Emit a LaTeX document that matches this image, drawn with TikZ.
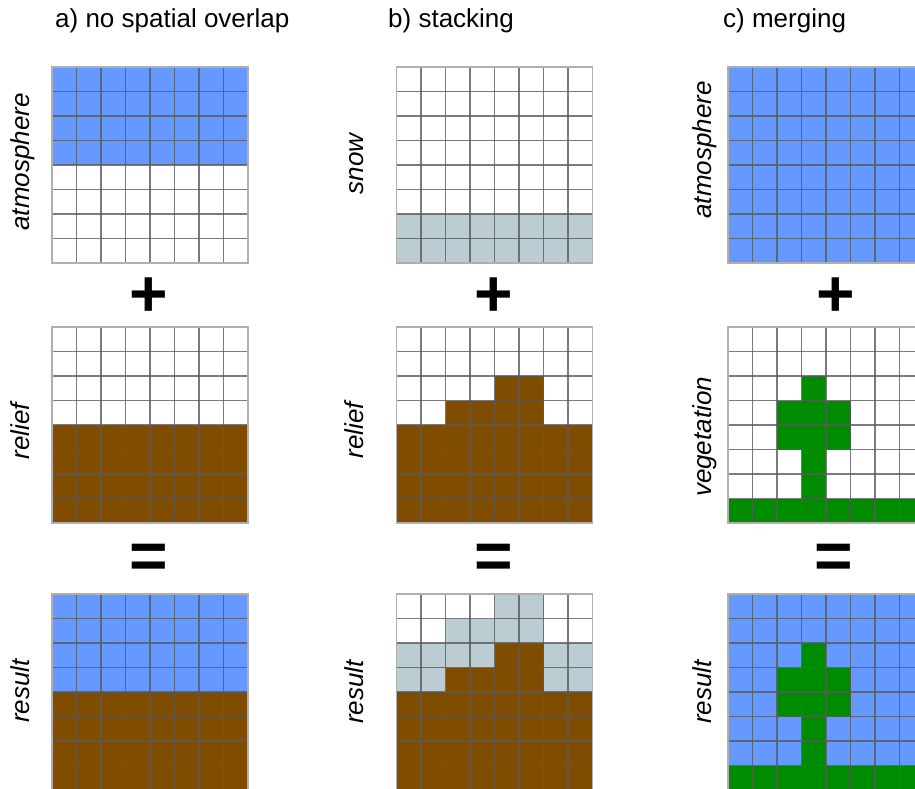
\documentclass[tikz,border=0pt]{standalone}
\usepackage{fontspec}
\setmainfont{Liberation Sans}
\definecolor{atm}{RGB}{102,153,255}
\definecolor{soil}{RGB}{127,76,0}
\definecolor{veg}{RGB}{0,140,0}
\definecolor{snowc}{RGB}{188,204,211}
\definecolor{linec}{RGB}{90,90,90}
\definecolor{borderc}{RGB}{175,175,175}
\newcommand\cellgrid{%
  \foreach \i in {1,...,7} {
    \draw[gridline] (\i,0) -- (\i,8);
    \draw[gridline] (0,\i) -- (8,\i);
  }
  \draw[gridborder] (0,0) rectangle (8,8);
}
\begin{document}
\begin{tikzpicture}[x=1pt,y=-1pt,
  gridline/.style={draw=linec, draw opacity=0.8, line width=1.3pt},
  gridborder/.style={draw=borderc, line width=1.2pt},
  ttl/.style={anchor=base west, inner sep=0pt, font=\fontsize{26}{30}\selectfont},
  lbl/.style={anchor=base, rotate=90, inner sep=0pt, font=\fontsize{26}{30}\selectfont\itshape},
  opsym/.style={inner sep=0pt, font=\fontsize{66}{70}\selectfont\bfseries}]
\useasboundingbox (0,0) rectangle (915,789);
\clip (0,0) rectangle (915,789);
\fill[white] (0,0) rectangle (915,789);

% titles
\node[ttl] (ta) at (55,28) {a) no spatial overlap};
\node[ttl] (tb) at (388,28) {b) stacking};
\node[ttl] (tc) at (723,28) {c) merging};

% ---------- column a ----------
\begin{scope}[shift={(52,67)}, x=24.5pt, y=-24.5pt]
  \fill[atm] (0,0) rectangle (8,4);
  \cellgrid
\end{scope}
\begin{scope}[shift={(52,327)}, x=24.5pt, y=-24.5pt]
  \fill[soil] (0,4) rectangle (8,8);
  \cellgrid
\end{scope}
\begin{scope}[shift={(52,594)}, x=24.5pt, y=-24.5pt]
  \fill[atm] (0,0) rectangle (8,4);
  \fill[soil] (0,4) rectangle (8,8);
  \cellgrid
\end{scope}

% ---------- column b ----------
\begin{scope}[shift={(396.5,67)}, x=24.5pt, y=-24.5pt]
  \fill[snowc] (0,6) rectangle (8,8);
  \cellgrid
\end{scope}
\begin{scope}[shift={(396.5,327)}, x=24.5pt, y=-24.5pt]
  \fill[soil] (0,4) rectangle (8,8);
  \fill[soil] (2,3) rectangle (6,4);
  \fill[soil] (4,2) rectangle (6,3);
  \cellgrid
\end{scope}
\begin{scope}[shift={(396.5,594)}, x=24.5pt, y=-24.5pt]
  \fill[soil] (0,4) rectangle (8,8);
  \fill[soil] (2,3) rectangle (6,4);
  \fill[soil] (4,2) rectangle (6,3);
  \fill[snowc] (4,0) rectangle (6,1);
  \fill[snowc] (2,1) rectangle (6,2);
  \fill[snowc] (0,2) rectangle (4,3);
  \fill[snowc] (6,2) rectangle (8,4);
  \fill[snowc] (0,3) rectangle (2,4);
  \cellgrid
\end{scope}

% ---------- column c ----------
\begin{scope}[shift={(728,67)}, x=24.5pt, y=-24.5pt]
  \fill[atm] (0,0) rectangle (8,8);
  \cellgrid
\end{scope}
\begin{scope}[shift={(728,327)}, x=24.5pt, y=-24.5pt]
  \fill[veg] (3,2) rectangle (4,3);
  \fill[veg] (2,3) rectangle (5,5);
  \fill[veg] (3,5) rectangle (4,7);
  \fill[veg] (0,7) rectangle (8,8);
  \cellgrid
\end{scope}
\begin{scope}[shift={(728,594)}, x=24.5pt, y=-24.5pt]
  \fill[atm] (0,0) rectangle (8,8);
  \fill[veg] (3,2) rectangle (4,3);
  \fill[veg] (2,3) rectangle (5,5);
  \fill[veg] (3,5) rectangle (4,7);
  \fill[veg] (0,7) rectangle (8,8);
  \cellgrid
\end{scope}

% labels
\node[lbl] (la1) at (29,162) {atmosphere};
\node[lbl] (la2) at (29,431) {relief};
\node[lbl] (la3) at (29,691) {result};
\node[lbl] (lb1) at (363,164) {snow};
\node[lbl] (lb2) at (363,430) {relief};
\node[lbl] (lb3) at (363,692) {result};
\node[lbl] (lc1) at (711,150) {atmosphere};
\node[lbl] (lc2) at (711,437) {vegetation};
\node[lbl] (lc3) at (711,692) {result};

% operators
\node[opsym] (pa) at (148.5,297) {+};
\node[opsym] (pb) at (494,297) {+};
\node[opsym] (pc) at (836,297) {+};
\node[opsym] (ea) at (148.5,561) {=};
\node[opsym] (eb) at (494,561) {=};
\node[opsym] (ec) at (834,561) {=};
\end{tikzpicture}
\end{document}
